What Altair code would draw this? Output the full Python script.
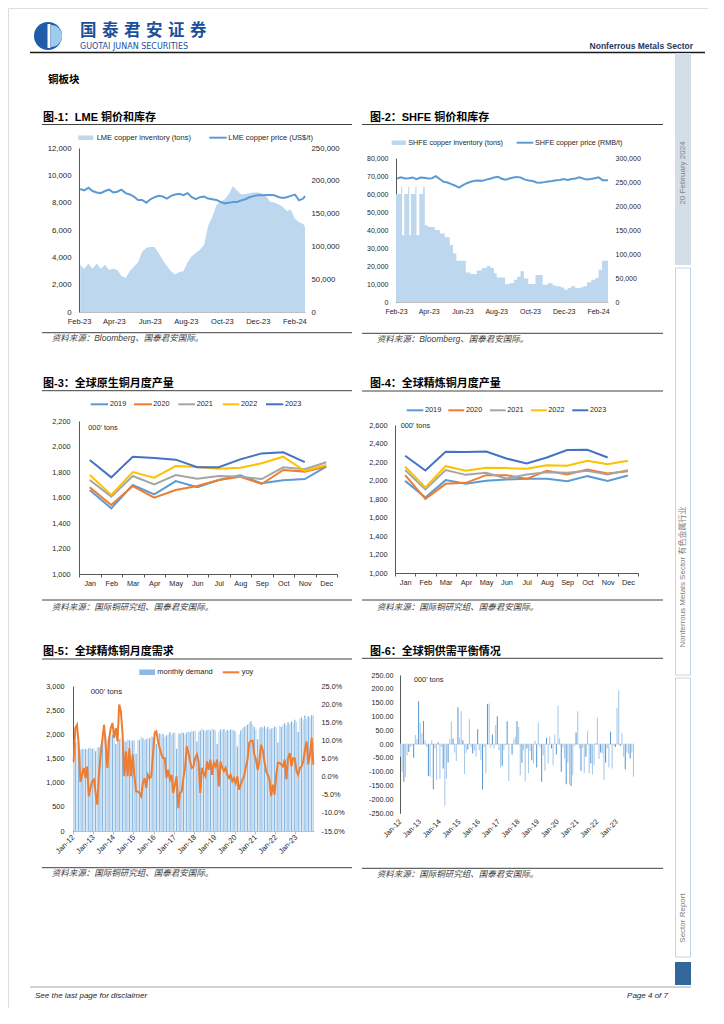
import altair as alt
import pandas as pd

# ---------------------------------------------------------------- data
week_dates = list(pd.date_range("2023-02-03", periods=55, freq="7D")) + [pd.Timestamp("2024-02-19")]

lme_inventory_t = [72000, 66000, 74000, 66000, 74000, 66000, 72000, 64000, 66000, 64000,
                   55000, 52000, 62000, 69000, 76000, 92000, 98000, 99000, 99000, 90000,
                   79000, 70000, 62000, 57000, 61000, 62000, 76000, 85000, 90000, 95000,
                   102000, 132000, 145000, 163000, 168000, 172000, 180000, 192000, 185000, 179000,
                   180000, 181000, 182000, 182000, 181000, 177000, 168000, 167000, 164000, 161000,
                   154000, 156000, 142000, 137000, 134000, 130000]
lme_price_usd = [9000, 8900, 9100, 8850, 8750, 8700, 8850, 8950, 8750, 8800,
                 8950, 8700, 8600, 8450, 8200, 8200, 8000, 8250, 8400, 8500,
                 8450, 8300, 8500, 8600, 8650, 8550, 8700, 8400, 8250, 8400,
                 8450, 8300, 8250, 8200, 8050, 7950, 8000, 8050, 8050, 8170,
                 8250, 8400, 8480, 8550, 8550, 8560, 8560, 8540, 8420, 8340,
                 8400, 8500, 8590, 8170, 8300, 8490]

shfe_price_rmb = [68600, 69300, 68600, 68800, 69200, 68200, 69100, 69000, 68600, 68800,
                  69900, 68300, 66800, 66400, 65500, 64600, 63500, 64900, 66000, 66800,
                  67300, 67500, 67300, 68000, 68500, 69200, 69600, 68500, 68000, 68600,
                  69200, 69500, 69000, 68000, 67500, 67200, 66400, 66200, 66600, 67000,
                  67200, 67600, 67800, 68300, 67800, 68300, 68600, 69300, 68600, 68000,
                  68300, 68800, 69300, 67700, 67700, 67600]
shfe_inv_dates = ["2023-02-01", "2023-02-10", "2023-02-12", "2023-02-16", "2023-02-23", "2023-02-25",
                  "2023-02-28", "2023-03-08", "2023-03-10", "2023-03-15", "2023-03-22", "2023-03-25",
                  "2023-03-31", "2023-04-12", "2023-04-21", "2023-04-30", "2023-05-09", "2023-05-15",
                  "2023-05-21", "2023-06-07", "2023-06-15", "2023-06-27", "2023-07-06", "2023-07-15",
                  "2023-07-22", "2023-07-28", "2023-08-02", "2023-08-17", "2023-08-26", "2023-09-02",
                  "2023-09-08", "2023-09-14", "2023-09-20", "2023-09-28", "2023-10-11", "2023-10-24",
                  "2023-11-02", "2023-11-11", "2023-11-17", "2023-11-26", "2023-12-02", "2023-12-08",
                  "2023-12-14", "2023-12-22", "2023-12-30", "2024-01-05", "2024-01-12", "2024-01-20",
                  "2024-01-27", "2024-02-02", "2024-02-08", "2024-02-19"]
shfe_inventory_t = [225000, 240000, 139000, 225000, 240000, 139000, 225000, 240000, 139000, 225000,
                    240000, 160000, 156000, 150000, 142500, 135000, 119000, 101000, 86000, 61500,
                    58500, 65600, 71000, 75000, 71000, 60000, 51000, 37500, 39400, 46500,
                    52500, 64000, 49000, 37500, 56000, 36000, 39000, 34500, 32600, 30000,
                    25500, 29000, 32600, 29000, 30400, 32600, 41000, 46500, 50000, 67000,
                    86000, 86000]

month_names = ["Jan", "Feb", "Mar", "Apr", "May", "Jun", "Jul", "Aug", "Sep", "Oct", "Nov", "Dec"]
years = ["2019", "2020", "2021", "2022", "2023"]
year_colors = ["#5B9BD5", "#ED7D31", "#A5A5A5", "#FFC000", "#4472C4"]

primary_2019 = [1659, 1515, 1698, 1625, 1729, 1680, 1737, 1774, 1711, 1735, 1745, 1842]
primary_2020 = [1680, 1541, 1690, 1599, 1659, 1690, 1737, 1763, 1706, 1816, 1803, 1842]
primary_2021 = [1737, 1607, 1769, 1703, 1776, 1748, 1769, 1763, 1745, 1837, 1821, 1876]
primary_2022 = [1776, 1620, 1800, 1756, 1847, 1839, 1826, 1834, 1868, 1920, 1808, 1855]
primary_2023 = [1894, 1758, 1920, 1910, 1897, 1837, 1837, 1899, 1946, 1954, 1878]

refined_2019 = [1996, 1816, 2004, 1964, 1996, 2011, 2018, 2018, 1993, 2047, 1996, 2054]
refined_2020 = [2058, 1801, 1964, 1975, 2058, 2058, 2018, 2105, 2065, 2119, 2076, 2101]
refined_2021 = [2112, 1903, 2112, 2061, 2083, 2022, 2065, 2090, 2083, 2105, 2065, 2112]
refined_2022 = [2148, 1924, 2155, 2105, 2137, 2134, 2126, 2166, 2159, 2213, 2177, 2213]
refined_2023 = [2267, 2108, 2310, 2307, 2314, 2238, 2184, 2249, 2329, 2332, 2249]

demand_kt = [
    1420, 1820, 1850, 1700, 1680, 1700, 1690, 1700, 1680, 1710, 1720, 1700,
    1700, 1650, 1720, 1740, 1780, 1870, 1900, 1950, 1900, 1960, 1950, 1990,
    1930, 1800, 1960, 1900, 1920, 1890, 1870, 1850, 1900, 1880, 1860, 1870,
    1880, 1600, 1900, 1880, 1950, 1920, 1880, 1900, 1930, 1920, 1960, 1950,
    2090, 1800, 2000, 2020, 1990, 2010, 1950, 1980, 2000, 2050, 1990, 2030,
    2040, 1700, 2020, 2010, 2050, 2030, 2000, 2040, 2060, 2050, 2080, 2060,
    2080, 1850, 2050, 2080, 2120, 2090, 2060, 2090, 2100, 2080, 2110, 2100,
    2080, 1800, 2050, 2100, 2080, 2110, 2060, 2090, 2080, 2100, 2090, 2080,
    2050, 1750, 2000, 2080, 2120, 2150, 2180, 2200, 2240, 2270, 2200, 2150,
    2100, 1900, 2120, 2150, 2130, 2170, 2120, 2150, 2100, 2120, 2130, 2160,
    2150, 1830, 2180, 2150, 2200, 2230, 2180, 2250, 2220, 2270, 2230, 2300,
    2260, 2050, 2330, 2350, 2300, 2390, 2320, 2380, 2350, 2400, 2390,
]
yoy_pct = [
    4.2, 13.4, 14.3, 9.0, -1.5, 0.5, 2.4, -0.4, 2.8, -5.4, -3.1, -1.3,
    -0.8, -4.5, -7.7, 0.5, 6.1, 10.2, 14.3, 8.8, 2.4, 10.2, 13.4, 14.8,
    10.7, 13.4, 9.7, 19.9, 18.0, 11.6, 0.1, 7.0, 0.1, 7.9, 0.1, 6.1,
    0.1, -4.1, -4.1, -4.5, -5.4, -1.8, -0.4, -3.1, 0.5, -0.4, 0.1, 6.1,
    12.0, 12.5, 9.7, 7.9, 6.1, 5.1, 5.1, -0.4, 1.9, -0.8, 0.5, -4.5,
    -2.2, 0.1, -8.7, -4.5, -4.1, -0.4, 2.4, 8.4, 6.5, 4.2, 2.4, 2.8,
    5.1, 6.1, 4.2, -4.5, 2.4, 1.0, 0.1, 4.2, 1.9, 4.7, 0.5, 3.8,
    2.8, 4.7, -2.7, 4.2, 2.4, 1.5, 2.4, 0.5, -0.4, 0.5, -1.3, -0.4,
    -1.8, 0.1, -3.6, -2.2, -0.8, 0.1, 2.8, 4.7, 9.3, 9.9, 9.9, 6.1,
    4.7, 1.9, 4.2, 8.8, 7.4, 4.2, 1.5, 0.5, -0.8, -5.4, -2.2, -5.0,
    0.5, 3.8, 3.8, 3.3, 2.8, 4.7, -0.8, 5.1, 6.5, 2.8, 5.1, 5.1,
    1.5, 0.5, 2.4, 2.8, 4.2, 7.4, 9.7, 3.3, 6.1, 10.7, 3.3,
]
balance_kt = [
    -46, -100, -136, -120, -40, -28, -10, -7, -49, 33,
    18, 155, 77, 39, 84, 14, -10, -115, -118, 14,
    -164, -16, -130, 6, -126, -10, -88, -223, -125, -66,
    17, 83, 20, -30, -61, 133, 23, 119, 14, -108,
    -31, -19, 90, -12, -34, -22, -46, 54, -22, -58,
    -164, -10, -106, 145, 147, -12, 35, -16, 69, 101,
    -22, -84, -78, -22, -4, 83, -133, 0, -37, 18,
    27, 83, 63, -112, -67, -22, -134, -16, -104, -25,
    -58, -70, 12, -84, 77, -12, -136, -40, -96, 23,
    -70, 27, -16, -76, 35, -37, 139, 20, -100, -12,
    -52, -145, -67, -146, -151, -112, -7, 42, 119, -16,
    -96, -13, -104, -46, 48, -106, -70, -110, -76, 2,
    95, -54, -30, -34, -130, -67, -16, -84, 45, -88,
    -6, -10, 131, 195, -7, 39, -46, -92, -30, -34,
    -52, -31, -118,
]

# ---------------------------------------------------------------- layout helpers
W, H, M = 700, 1000, 8
LAT = "Liberation Sans"
CJK = "Noto Sans CJK SC"
MIX = "Liberation Sans, Noto Sans CJK SC"
INK = "#262626"
DARK = "#595959"
LIGHT = "#BFBFBF"
BRAND = "#1A4F9C"


def P(v):
    return v - M


one = pd.DataFrame({"k": [0]})


def text(x, y, s, size=7.5, color=INK, font=LAT, weight="normal", style="normal", align="left", angle=0):
    return alt.Chart(one).mark_text(
        fontSize=size, color=color, font=font, fontWeight=weight, fontStyle=style,
        align=align, baseline="middle", angle=angle,
    ).encode(x=alt.value(P(x)), y=alt.value(P(y)), text=alt.value(s))


def hline(x1, x2, y, color="#404040", width=1.0):
    return alt.Chart(one).mark_rule(color=color, strokeWidth=width).encode(
        x=alt.value(P(x1)), x2=alt.value(P(x2)), y=alt.value(P(y)))


def rect(x1, x2, y1, y2, fill, stroke=None):
    kw = {"fill": fill}
    if stroke is not None:
        kw["stroke"] = stroke
        kw["strokeWidth"] = 1
    return alt.Chart(one).mark_rect(**kw).encode(
        x=alt.value(P(x1)), x2=alt.value(P(x2)), y=alt.value(P(y1)), y2=alt.value(P(y2)))


def arc(cx, cy, r, t0, t1, color, inner=0):
    return alt.Chart(one).mark_arc(theta=t0, theta2=t1, outerRadius=r, innerRadius=inner, color=color).encode(
        x=alt.value(P(cx)), y=alt.value(P(cy)))


def axis(orient, pos, size=7.5, pad=6, **kw):
    if orient == "left":
        off = -P(pos)
    elif orient == "right":
        off = P(pos) - W
    else:
        off = P(pos) - H
    base = dict(orient=orient, offset=off, labelFontSize=size, labelPadding=pad, labelFont=LAT,
                labelColor=INK, title=None, grid=False, ticks=False, labelOverlap=False, domainColor=DARK)
    base.update(kw)
    return alt.Axis(**base)


def yscale(lo, hi, top, bottom):
    return alt.Scale(domain=[lo, hi], range=[P(bottom), P(top)], nice=False, zero=False)


t_dom = [alt.DateTime(year=2023, month=2, date=1), alt.DateTime(year=2024, month=2, date=19)]
t_ticks = [alt.DateTime(year=2023, month=m, date=1) for m in (2, 4, 6, 8, 10, 12)] + \
          [alt.DateTime(year=2024, month=2, date=1)]


def tscale(x0, x1):
    return alt.Scale(domain=t_dom, range=[P(x0), P(x1)], nice=False)


layers = []

# ---------------------------------------------------------------- page furniture
brand_cn = "国泰君安证券"
layers += [
    arc(48, 36, 14, 0, 6.2832, "#1F5DAA"),
    arc(51, 36, 11, 0, 3.1416, "#9ECCEE"),
    rect(47.5, 50.5, 24, 48, "white"),
]
layers += [text(80 + 22 * i, 31, ch, size=16.5, color=BRAND, font=CJK, weight="bold")
           for i, ch in enumerate(brand_cn)]
layers += [
    text(80, 46.5, "GUOTAI JUNAN SECURITIES", size=8, color=BRAND, font="DejaVu Sans"),
    text(693, 46, "Nonferrous Metals Sector", size=8.5, color="#1F3864", weight="bold", align="right"),
    hline(30, 705, 52.5, color="#1A1A1A", width=1.5),
    text(48, 80, "铜板块", size=10.5, font=CJK, weight="bold", color="#000000"),
    rect(675, 691, 53, 265, "#D3DEE8"),
    text(682.5, 173, "20 February 2024", size=8, color="#808080", angle=270, align="center"),
    rect(675.5, 690.5, 268, 675, "#FFFFFF", stroke="#C8D5DF"),
    text(682.5, 577, "Nonferrous Metals Sector 有色金属行业", size=8, color="#808080", font=MIX, angle=270,
         align="center"),
    rect(675.5, 690.5, 678, 957, "#FFFFFF", stroke="#C8D5DF"),
    text(682.5, 918, "Sector Report", size=8, color="#808080", angle=270, align="center"),
    rect(675, 691, 962, 985, "#336699"),
    hline(30, 691, 987, color="#A6A6A6", width=1),
    text(35, 996, "See the last page for disclaimer", size=8, style="italic"),
    text(668, 996, "Page 4 of 7", size=8, style="italic", align="right"),
]

SRC_BB = "资料来源：Bloomberg、国泰君安国际。"
SRC_ICSG = "资料来源：国际铜研究组、国泰君安国际。"


def frame(tx, ty, title, lx1, lx2, ly_top, ly_src, sx, sy, src):
    return [
        text(tx, ty, title, size=11, font=MIX, weight="bold", color="#000000"),
        hline(lx1, lx2, ly_top, color="#404040", width=1),
        hline(lx1, lx2, ly_src, color="#404040", width=1),
        text(sx, sy, src, size=8.5, font=MIX, style="italic", color="#404040"),
    ]


layers += frame(43, 117.7, "图-1：LME 铜价和库存", 42, 352, 124.5, 332.7, 51.7, 338.3, SRC_BB)
layers += frame(370, 117.7, "图-2：SHFE 铜价和库存", 362, 663, 124.5, 333.3, 376.7, 339.3, SRC_BB)
layers += frame(43, 384, "图-3：全球原生铜月度产量", 42, 352, 390.7, 600, 51.7, 607.3, SRC_ICSG)
layers += frame(370, 384, "图-4：全球精炼铜月度产量", 362, 663, 391, 600, 376.7, 607.3, SRC_ICSG)
layers += frame(43, 652.3, "图-5：全球精炼铜月度需求", 42, 352, 659, 867.7, 51.7, 872.8, SRC_ICSG)
layers += frame(370, 652.3, "图-6：全球铜供需平衡情况", 362, 663, 658.3, 868.3, 376.7, 874, SRC_ICSG)

# ---------------------------------------------------------------- chart 1 : LME
lme = pd.DataFrame({"date": week_dates, "inventory": lme_inventory_t, "price": lme_price_usd})
layers.append(alt.Chart(lme).mark_area(color="#BDD7EE").encode(
    x=alt.X("date:T", scale=tscale(79, 305),
            axis=axis("bottom", 312, size=7.5, pad=5, values=t_ticks, format="%b-%y", labelFlush=False,
                      domainColor=LIGHT)),
    y=alt.Y("inventory:Q", scale=yscale(0, 250000, 148, 312),
            axis=axis("right", 305, size=7.8, pad=6, values=list(range(0, 250001, 50000)), format=",d",
                      domain=False)),
))
layers.append(alt.Chart(lme).mark_line(color="#5B9BD5", strokeWidth=2).encode(
    x=alt.X("date:T", scale=tscale(79, 305), axis=None),
    y=alt.Y("price:Q", scale=yscale(0, 12000, 148, 312),
            axis=axis("left", 79, size=7.8, pad=8, values=list(range(0, 12001, 2000)), format=",d")),
))
layers += [
    rect(78.3, 93.3, 135.5, 140, "#BDD7EE"),
    text(96.7, 137.7, "LME copper inventory (tons)"),
    hline(209.3, 226.7, 137.7, color="#5B9BD5", width=2),
    text(228.3, 137.7, "LME copper price (US$/t)"),
]

# ---------------------------------------------------------------- chart 2 : SHFE
shfe_inv = pd.DataFrame({"date": pd.to_datetime(shfe_inv_dates), "inventory": shfe_inventory_t})
shfe_px = pd.DataFrame({"date": week_dates, "price": shfe_price_rmb})
layers.append(alt.Chart(shfe_inv).mark_area(color="#BDD7EE", interpolate="step-after").encode(
    x=alt.X("date:T", scale=tscale(396, 608),
            axis=axis("bottom", 302, size=7, pad=5, values=t_ticks, format="%b-%y", labelFlush=False,
                      domainColor=LIGHT)),
    y=alt.Y("inventory:Q", scale=yscale(0, 300000, 158, 302),
            axis=axis("right", 608, size=7, pad=7, values=list(range(0, 300001, 50000)), format=",d",
                      domain=False)),
))
layers.append(alt.Chart(shfe_px).mark_line(color="#5B9BD5", strokeWidth=2).encode(
    x=alt.X("date:T", scale=tscale(396, 608), axis=None),
    y=alt.Y("price:Q", scale=yscale(0, 80000, 158, 302),
            axis=axis("left", 396, size=7, pad=8, values=list(range(0, 80001, 10000)), format=",d")),
))
layers += [
    rect(391.7, 406, 140.5, 145, "#BDD7EE"),
    text(408.3, 142.7, "SHFE copper inventory (tons)", size=7.2),
    hline(516.7, 533.3, 142.7, color="#5B9BD5", width=2),
    text(535, 142.7, "SHFE copper price (RMB/t)", size=7.2),
]


# ---------------------------------------------------------------- charts 3 & 4 : monthly output
def yearly_frame(series):
    rows = []
    for yr, vals in zip(years, series):
        for mn, v in zip(month_names, vals):
            rows.append({"year": yr, "month": mn, "value": v})
    return pd.DataFrame(rows)


def monthly_chart(df, x0, x1, top, bottom, lo, hi, ypad):
    return alt.Chart(df).mark_line(strokeWidth=2).encode(
        x=alt.X("month:N", bandPosition=0.5,
                scale=alt.Scale(type="band", domain=month_names, range=[P(x0), P(x1)], paddingInner=0,
                                paddingOuter=0),
                axis=axis("bottom", bottom, size=7.3, pad=2, tickBand="extent", ticks=True, tickSize=3,
                          tickColor=DARK, labelAngle=0)),
        y=alt.Y("value:Q", scale=yscale(lo, hi, top, bottom),
                axis=axis("left", x0, size=7.3, pad=ypad, values=list(range(lo, hi + 1, 200)), format=",d")),
        color=alt.Color("year:N", scale=alt.Scale(domain=years, range=year_colors), legend=None),
    )


layers.append(monthly_chart(
    yearly_frame([primary_2019, primary_2020, primary_2021, primary_2022, primary_2023]),
    79, 337, 421, 574, 1000, 2200, 9))
layers.append(monthly_chart(
    yearly_frame([refined_2019, refined_2020, refined_2021, refined_2022, refined_2023]),
    395, 638, 425, 573, 1000, 2600, 8))


def year_legend(y, segs, labels_x):
    out = []
    for (a, b), lx, yr, col in zip(segs, labels_x, years, year_colors):
        out.append(hline(a, b, y, color=col, width=2))
        out.append(text(lx, y, yr, size=7.3))
    return out


layers += year_legend(404.3, [(90.7, 108), (134, 152), (178.3, 195), (222.7, 239.3), (266, 283.3)],
                      [110, 153.3, 196.7, 241, 285])
layers += year_legend(410.3, [(406.7, 423.3), (448.3, 464.3), (490, 505.7), (531, 546.7), (572.3, 588.3)],
                      [425, 466, 507.3, 548.3, 590])
layers += [text(88.3, 428, "000' tons", size=7.3), text(400.7, 426, "000' tons", size=7.3)]

# ---------------------------------------------------------------- chart 5 : demand
months5 = list(pd.date_range("2012-01-01", periods=len(demand_kt), freq="MS").strftime("%Y-%m"))
jan_ticks = [f"{y}-01" for y in range(2012, 2024)]
dem = pd.DataFrame({"month": months5, "demand": demand_kt, "yoy": yoy_pct})
x5 = alt.Scale(type="band", domain=months5, range=[P(73), P(314)], paddingInner=0.25, paddingOuter=0)
layers.append(alt.Chart(dem).transform_window(idx="row_number()").mark_bar().encode(
    x=alt.X("month:N", scale=x5,
            axis=axis("bottom", 831, size=7.5, pad=2, values=jan_ticks, bandPosition=0, ticks=True, tickSize=3,
                      tickColor=LIGHT, domainColor=LIGHT, labelAngle=315, labelAlign="right",
                      labelBaseline="middle", labelExpr="'Jan-' + slice(datum.value, 2, 4)")),
    y=alt.Y("demand:Q", scale=yscale(0, 3000, 686, 831),
            axis=axis("left", 73, size=7.3, pad=9, values=list(range(0, 3001, 500)), format=",d")),
    color=alt.condition("datum.idx % 2 == 0", alt.value("#85B5E1"), alt.value("#C2DAF0")),
))
layers.append(alt.Chart(dem).mark_line(color="#ED7D31", strokeWidth=2).encode(
    x=alt.X("month:N", scale=x5, bandPosition=0.5, axis=None),
    y=alt.Y("yoy:Q", scale=yscale(-15, 25, 686, 831),
            axis=axis("right", 314, size=7.3, pad=7, values=list(range(-15, 26, 5)), domain=False,
                      labelExpr="replace(format(datum.value, '.1f'), '\u2212', '-') + '%'")),
))
layers += [
    rect(139.3, 155, 669.5, 675, "#8DB9E3"),
    text(157.3, 672.3, "monthly demand", size=7.5),
    hline(222.7, 239.3, 672.3, color="#ED7D31", width=2),
    text(241.7, 672.3, "yoy", size=7.5),
    text(90.7, 692.3, "000' tons", size=7.8),
]

# ---------------------------------------------------------------- chart 6 : balance
months6 = list(pd.date_range("2012-01-01", periods=len(balance_kt), freq="MS").strftime("%Y-%m"))
bal = pd.DataFrame({"month": months6, "balance": balance_kt})
layers.append(alt.Chart(one).mark_rule(color="#D9D9D9", strokeWidth=1).encode(
    y=alt.YDatum(0, scale=yscale(-250, 250, 675, 813.3), axis=None),
    x=alt.value(P(400)), x2=alt.value(P(634)),
))
layers.append(alt.Chart(bal).transform_window(idx="row_number()").mark_bar().encode(
    x=alt.X("month:N",
            scale=alt.Scale(type="band", domain=months6, range=[P(400), P(634)], paddingInner=0.35,
                            paddingOuter=0),
            axis=axis("bottom", 813.3, size=7.3, pad=7, values=jan_ticks, bandPosition=0, domain=False,
                      labelAngle=315, labelAlign="right", labelBaseline="middle",
                      labelExpr="'Jan-' + slice(datum.value, 2, 4)")),
    y=alt.Y("balance:Q", scale=yscale(-250, 250, 675, 813.3),
            axis=axis("left", 400, size=7.2, pad=7, values=list(range(-250, 251, 50)),
                      labelExpr="replace(format(datum.value, '.2f'), '\u2212', '-')")),
    color=alt.condition("datum.idx % 3 == 0", alt.value("#5B9BD5"), alt.value("#A6C9EA")),
))
layers.append(text(414, 680, "000' tons", size=7.3))

chart = alt.layer(*layers).resolve_scale(x="independent", y="independent").properties(
    width=W, height=H, padding=0, autosize=alt.AutoSizeParams(type="none"),
).configure_view(stroke=None).configure(font=LAT)

chart.save("out.html", embed_options={"renderer": "svg", "actions": False})
